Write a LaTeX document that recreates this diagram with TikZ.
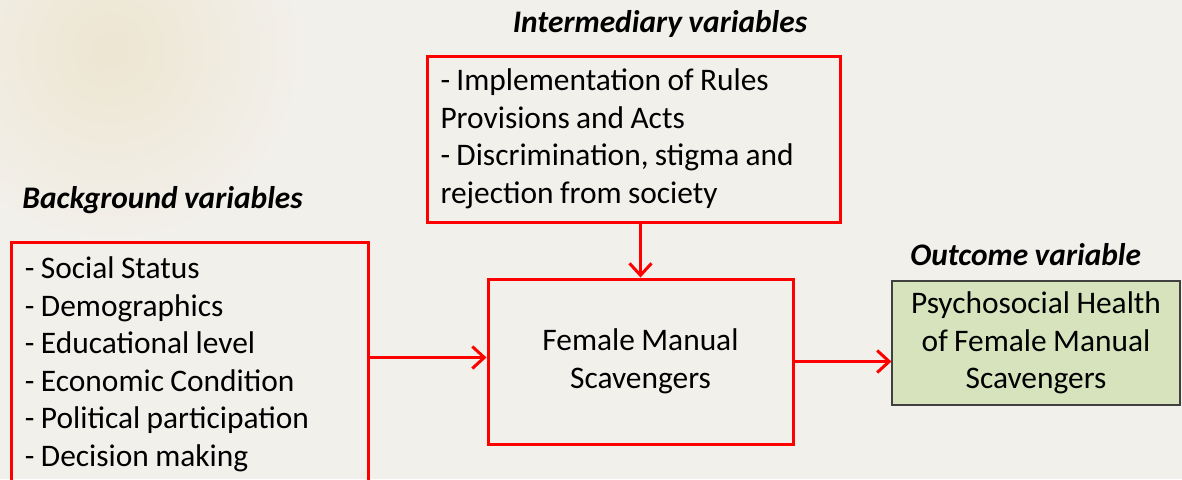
\documentclass[tikz,border=0pt]{standalone}
\usepackage{fontspec}
\setmainfont[WordSpace=0.9]{Carlito}
\usepackage{xcolor}
\usepackage{tikz}
\usetikzlibrary{positioning,arrows.meta}
\tikzset{c-redbox/.style={rectangle, draw=c_red, line width=1.5pt, inner xsep=6pt, inner ysep=4pt, font=\fontsize{15.7}{18.75}\selectfont},
c-greenbox/.style={rectangle, draw=c_border, line width=0.6pt, fill=c_outcome, align=center, font=\fontsize{15.7}{18.75}\selectfont},
c-title/.style={inner sep=0pt, font=\fontsize{15.7}{18.75}\selectfont\bfseries\itshape},
arrow/.style={draw=c_red, line width=1.5pt, -{Straight Barb[length=6pt,width=11pt]}}}
\definecolor{c_red}{rgb}{1.0, 0.0, 0.0}
\definecolor{c_outcome}{rgb}{0.84, 0.89, 0.74}
\definecolor{c_border}{rgb}{0.25, 0.25, 0.25}
\definecolor{c_paper}{rgb}{0.95, 0.94, 0.92}
\definecolor{c_stain}{rgb}{0.93, 0.90, 0.82}

\begin{document}
\begin{tikzpicture}[x=0.5pt, y=-0.5pt]
\useasboundingbox (0,0) rectangle (1182,479);
\clip (0,0) rectangle (1182,479);
\fill [c_paper] (0,0) rectangle (1182,479);
\shade [inner color=c_stain, outer color=c_paper] (110,50) circle (190);
% boxes
\node (n0) [c-redbox, minimum width=152.5pt, minimum height=82.5pt, align=center] at (640.5,361.5) {
Female Manual\\
Scavengers
};
\node (n1) [c-redbox, minimum width=206.5pt, minimum height=83pt, text width=193pt, align=flush left] at (633.5,139) {
- Implementation of Rules\\
Provisions and Acts\\
- Discrimination, stigma and\\
rejection from society
};
\node (n2) [c-redbox, anchor=north west, minimum width=178.5pt, minimum height=122pt, text width=165pt, align=flush left] at (10,241) {
- Social Status\\
- Demographics\\
- Educational level\\
- Economic Condition\\
- Political participation\\
- Decision making
};
\node (n3) [c-greenbox, minimum width=144pt, minimum height=62pt] at (1036,343) {
Psychosocial Health\\
of Female Manual\\
Scavengers
};
% titles
\node (t1) [c-title] at (660,24) {Intermediary variables};
\node (t2) [c-title, anchor=west] at (22,200) {Background variables};
\node (t3) [c-title, anchor=west] at (910,255) {Outcome variable};
% arrows
\draw [arrow] (n0.north |- n1.south) -- (n0.north);
\draw [arrow] ([yshift=2pt]n2.east |- n0.west) -- ([yshift=2pt]n0.west);
\draw [arrow] (n0.east) -- (n0.east -| n3.west);
\end{tikzpicture}
\end{document}
